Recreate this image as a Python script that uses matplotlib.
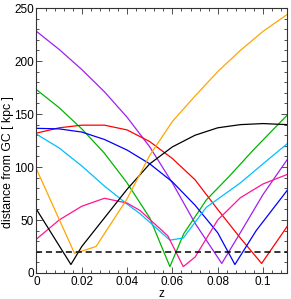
import matplotlib
matplotlib.use("Agg")
import matplotlib.pyplot as plt
from matplotlib.ticker import MultipleLocator

plt.rcParams['font.family'] = ['Liberation Sans', 'DejaVu Sans']

# (z, distance) samples per object
purple_z = [0, 0.01, 0.02, 0.03, 0.04, 0.05, 0.06, 0.07, 0.0818, 0.09, 0.1, 0.1107]
purple_d = [228, 211, 192, 171, 147, 119, 85, 47, 9, 38, 74, 107]

green_z = [0, 0.01, 0.02, 0.03, 0.04, 0.05, 0.0589, 0.065, 0.075, 0.085, 0.0957, 0.1107]
green_d = [173, 156, 136, 113, 85, 52, 6, 37, 69, 91, 116, 149]

red_z = [0, 0.01, 0.02, 0.03, 0.04, 0.05, 0.06, 0.07, 0.08, 0.09, 0.0994, 0.1107]
red_d = [132, 137, 139.5, 139.5, 135, 124, 108, 88, 60, 33, 9, 44]

blue_z = [0, 0.01, 0.02, 0.03, 0.04, 0.05, 0.06, 0.07, 0.08, 0.0876, 0.097, 0.1107]
blue_d = [136.5, 136, 133, 126, 116, 103, 86, 64, 38, 8, 40, 78]

sky_z = [0, 0.01, 0.02, 0.03, 0.04, 0.0457, 0.0589, 0.0648, 0.075, 0.09, 0.1, 0.1107]
sky_d = [131, 118, 101, 82, 65, 56, 31, 33, 62, 85, 103, 122]

pink_z = [0, 0.01, 0.02, 0.03, 0.04, 0.0457, 0.058, 0.0648, 0.07, 0.08, 0.09, 0.1, 0.1107]
pink_d = [32, 50, 63, 70.5, 66, 59, 35, 6, 15, 50, 71, 84, 93]

black_z = [0, 0.0152, 0.02, 0.03, 0.04, 0.05, 0.06, 0.07, 0.08, 0.09, 0.1, 0.1107]
black_d = [60, 8, 25, 52, 79, 103, 119, 130, 137, 140, 141, 140]

orange_z = [0, 0.0168, 0.0263, 0.04, 0.05, 0.06, 0.07, 0.08, 0.09, 0.1, 0.1107]
orange_d = [98, 18.5, 25, 70, 111, 143, 167, 190, 210, 228, 244]

threshold = 20

series = [
    (purple_z, purple_d, '#A020F0'),
    (green_z, green_d, '#00B400'),
    (red_z, red_d, '#FF0000'),
    (blue_z, blue_d, '#0000FF'),
    (sky_z, sky_d, '#00BFFF'),
    (pink_z, pink_d, '#FF1493'),
    (black_z, black_d, '#000000'),
    (orange_z, orange_d, '#FFA500'),
]

fig = plt.figure(figsize=(2.91, 2.99), dpi=100)
ax = fig.add_axes([0.1254, 0.087, 0.8616, 0.886])

for zs, ds, c in series:
    ax.plot(zs, ds, color=c, lw=0.9)

ax.axhline(threshold, color='black', lw=1.1, ls=(0, (4, 2.5)))

ax.set_xlim(0, 0.1107)
ax.set_ylim(0, 250)
ax.xaxis.set_minor_locator(MultipleLocator(0.004))
ax.yaxis.set_major_locator(MultipleLocator(50))
ax.yaxis.set_minor_locator(MultipleLocator(10))
ax.set_xticks([0, 0.02, 0.04, 0.06, 0.08, 0.1])
ax.set_xticklabels(['0', '0.02', '0.04', '0.06', '0.08', '0.1'])
ax.tick_params(which='both', direction='in', top=True, right=True,
               labelsize=8.5, width=0.6, color='#333333', pad=2)
ax.tick_params(which='major', length=4)
ax.tick_params(which='minor', length=2)
for s in ax.spines.values():
    s.set_linewidth(0.8)
    s.set_color('#333333')

ax.set_xlabel('z', fontsize=8.5, labelpad=0)
ax.set_ylabel('distance from GC [ kpc ]', fontsize=8.8, va='center')
ax.yaxis.set_label_coords(-0.112, 0.42)

fig.savefig('out.png', dpi=100)
